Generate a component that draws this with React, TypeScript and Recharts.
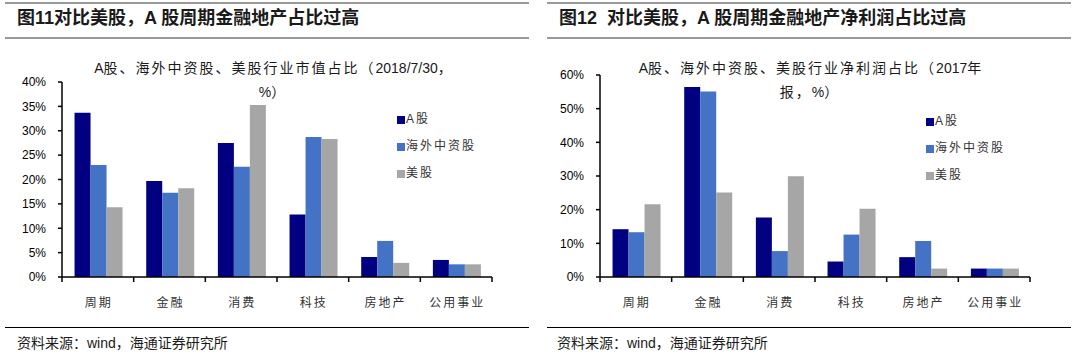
import React from 'react';
import { BarChart, Bar, XAxis, YAxis, Legend } from 'recharts';

const categories = ['周期', '金融', '消费', '科技', '房地产', '公用事业'];

// 行业市值占比（2018/7/30，%）
const mvA = [33.7, 19.7, 27.5, 12.8, 4.1, 3.5];
const mvOverseas = [23.0, 17.3, 22.6, 28.7, 7.4, 2.6];
const mvUS = [14.3, 18.2, 35.3, 28.3, 2.9, 2.6];
const mvTicks = [0, 5, 10, 15, 20, 25, 30, 35, 40];

// 行业净利润占比（2017年报，%）
const npA = [14.2, 56.4, 17.7, 4.6, 5.9, 2.5];
const npOverseas = [13.3, 55.1, 7.7, 12.6, 10.7, 2.5];
const npUS = [21.6, 25.1, 29.9, 20.3, 2.5, 2.5];
const npTicks = [0, 10, 20, 30, 40, 50, 60];

const seriesNames = ['A股', '海外中资股', '美股'];
const COLORS = ['#000080', '#4472C4', '#A6A6A6'];

const FONT = 'Arial, "Liberation Sans", "Noto Sans CJK SC", sans-serif';

const buildRows = (a: number[], o: number[], u: number[]) =>
  categories.map((name, i) => ({ name, a: a[i], o: o[i], u: u[i] }));

const CatTick = (props: any) => {
  const { x, y, payload } = props;
  const half = payload.offset ?? 35.8;
  const last = payload.value === categories[categories.length - 1];
  return (
    <g>
      <line x1={x - half} x2={x - half} y1={y} y2={y + 5} stroke="#000" strokeWidth={1.5} />
      {last && <line x1={x + half} x2={x + half} y1={y} y2={y + 5} stroke="#000" strokeWidth={1.5} />}
      <text x={x + 1} y={y + 30} textAnchor="middle" fill="#333" fontSize={12} letterSpacing={2} fontFamily={FONT}>
        {payload.value}
      </text>
    </g>
  );
};

type PanelProps = {
  left: number;
  heading: React.ReactNode;
  title1: React.ReactNode;
  title2: React.ReactNode;
  titleCenter: number;
  rows: any[];
  ticks: number[];
  top: number;
  yWidth: number;
  right: number;
  legendLeft: number;
  legendTop: number;
  sourceLeft: number;
};

const Panel = (p: PanelProps) => (
  <div style={{ position: 'absolute', left: p.left, top: 0, width: 524, height: 357, fontFamily: FONT }}>
    <div style={{ position: 'absolute', left: 0, top: 2, width: 524, height: 2, background: '#999' }} />
    <div style={{ position: 'absolute', left: 0, top: 37, width: 524, height: 2, background: '#999' }} />
    <div style={{ position: 'absolute', left: 12, top: 6, fontSize: 18, fontWeight: 'bold', color: '#1a1a1a', whiteSpace: 'nowrap', lineHeight: '24px' }}>
      {p.heading}
    </div>
    <BarChart
      width={524}
      height={357}
      data={p.rows}
      margin={{ top: p.top, right: p.right, bottom: 50, left: 0 }}
      barCategoryGap="17.5%"
      barGap={0}
    >
      <XAxis
        dataKey="name"
        interval={0}
        tickSize={0}
        tickMargin={0}
        height={30}
        axisLine={{ stroke: '#000', strokeWidth: 1.5 }}
        tickLine={false}
        tick={CatTick}
      />
      <YAxis
        width={p.yWidth}
        domain={[p.ticks[0], p.ticks[p.ticks.length - 1]]}
        ticks={p.ticks}
        tickFormatter={(v: number) => `${v}%`}
        tickSize={4}
        tickMargin={12}
        axisLine={{ stroke: '#000', strokeWidth: 1.5 }}
        tickLine={{ stroke: '#000', strokeWidth: 1.5 }}
        tick={{ fill: '#000', fontSize: 12, fontFamily: FONT }}
      />
      <Legend
        layout="vertical"
        align="center"
        verticalAlign="middle"
        iconType="square"
        iconSize={8}
        wrapperStyle={{ top: p.legendTop, left: p.legendLeft, width: 'auto', lineHeight: '27px', fontSize: 12 }}
        formatter={(value: string) => (
          <span style={{ color: '#333', letterSpacing: 2, marginLeft: -3 }}>{value}</span>
        )}
      />
      <Bar dataKey="a" name={seriesNames[0]} fill={COLORS[0]} isAnimationActive={false} />
      <Bar dataKey="o" name={seriesNames[1]} fill={COLORS[1]} isAnimationActive={false} />
      <Bar dataKey="u" name={seriesNames[2]} fill={COLORS[2]} isAnimationActive={false} />
    </BarChart>
    <div
      style={{
        position: 'absolute',
        left: p.titleCenter - 220,
        width: 440,
        top: 56,
        textAlign: 'center',
        fontSize: 14,
        lineHeight: '24px',
        color: '#1a1a1a',
      }}
    >
      {p.title1}
      <br />
      {p.title2}
    </div>
    <div style={{ position: 'absolute', left: 0, top: 327, width: 524, height: 1, background: '#000' }} />
    <div style={{ position: 'absolute', left: p.sourceLeft, top: 333, fontSize: 14, lineHeight: '20px', color: '#1a1a1a', whiteSpace: 'nowrap' }}>
      资料来源：wind，海通证券研究所
    </div>
  </div>
);

const sp = (s: string) => <span style={{ letterSpacing: 2 }}>{s}</span>;

export default function App() {
  return (
    <div style={{ position: 'absolute', left: 0, top: 0, width: 1080, height: 357, background: '#fff', overflow: 'hidden' }}>
      <Panel
        left={5}
        heading={<>图11对比美股，A 股周期金融地产占比过高</>}
        title1={<>A{sp('股、海外中资股、美股行业市值占比（')}2018/7/30，</>}
        title2={<>%{sp('）')}</>}
        titleCenter={268}
        rows={buildRows(mvA, mvOverseas, mvUS)}
        ticks={mvTicks}
        top={82}
        yWidth={57}
        right={37}
        legendLeft={392}
        legendTop={106}
        sourceLeft={12}
      />
      <Panel
        left={547}
        heading={<>图12&nbsp; 对比美股，A 股周期金融地产净利润占比过高</>}
        title1={<>A{sp('股、海外中资股、美股行业净利润占比（')}2017年</>}
        title2={<>{sp('报，')}%{sp('）')}</>}
        titleCenter={263}
        rows={buildRows(npA, npOverseas, npUS)}
        ticks={npTicks}
        top={75}
        yWidth={53}
        right={41}
        legendLeft={379}
        legendTop={108}
        sourceLeft={10}
      />
    </div>
  );
}
